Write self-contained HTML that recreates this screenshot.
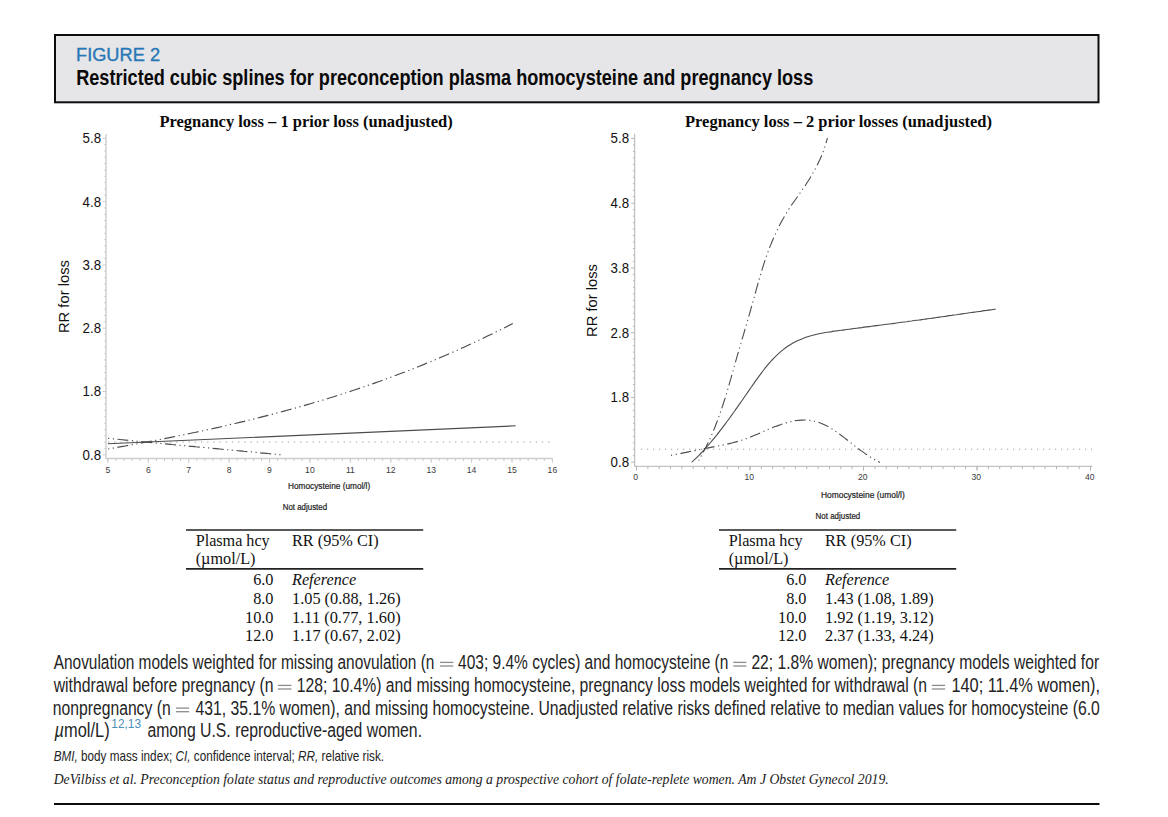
<!DOCTYPE html>
<html lang="en">
<head>
<meta charset="utf-8">
<title>Figure 2 - Restricted cubic splines for preconception plasma homocysteine and pregnancy loss</title>
<style>
html,body{margin:0;padding:0;background:#fff;}
body{width:1168px;height:817px;overflow:hidden;font-family:"Liberation Sans",sans-serif;}
svg{display:block;position:absolute;left:0;top:0;}
text{white-space:pre;}
</style>
</head>
<body>
<svg width="1168" height="817" viewBox="0 0 1168 817">
<rect x="55" y="35" width="1043.5" height="67.3" fill="#e6e6e8" stroke="#0c0c0c" stroke-width="2"/>
<text x="76.0" y="60.8" font-family='"Liberation Sans", sans-serif' font-size="17.5" fill="#2777b6" textLength="84.06" lengthAdjust="spacingAndGlyphs" stroke="#2777b6" stroke-width="0.35">FIGURE 2</text>
<text x="76.2" y="84.8" font-family='"Liberation Sans", sans-serif' font-size="21.8" fill="#0a0a0a" font-weight="bold" textLength="737.06" lengthAdjust="spacingAndGlyphs">Restricted cubic splines for preconception plasma homocysteine and pregnancy loss</text>
<line x1="106" y1="134" x2="106" y2="458.5" stroke="#cdcdcd" stroke-width="1.4" />
<line x1="105.3" y1="458.5" x2="552.6" y2="458.5" stroke="#cdcdcd" stroke-width="1.4" />
<line x1="102.5" y1="138.3" x2="106" y2="138.3" stroke="#cdcdcd" stroke-width="1" />
<line x1="104.2" y1="144.6" x2="106" y2="144.6" stroke="#cdcdcd" stroke-width="1" />
<line x1="104.2" y1="151.0" x2="106" y2="151.0" stroke="#cdcdcd" stroke-width="1" />
<line x1="104.2" y1="157.3" x2="106" y2="157.3" stroke="#cdcdcd" stroke-width="1" />
<line x1="104.2" y1="163.6" x2="106" y2="163.6" stroke="#cdcdcd" stroke-width="1" />
<line x1="104.2" y1="170.0" x2="106" y2="170.0" stroke="#cdcdcd" stroke-width="1" />
<line x1="104.2" y1="176.3" x2="106" y2="176.3" stroke="#cdcdcd" stroke-width="1" />
<line x1="104.2" y1="182.6" x2="106" y2="182.6" stroke="#cdcdcd" stroke-width="1" />
<line x1="104.2" y1="188.9" x2="106" y2="188.9" stroke="#cdcdcd" stroke-width="1" />
<line x1="104.2" y1="195.3" x2="106" y2="195.3" stroke="#cdcdcd" stroke-width="1" />
<line x1="102.5" y1="201.6" x2="106" y2="201.6" stroke="#cdcdcd" stroke-width="1" />
<line x1="104.2" y1="207.9" x2="106" y2="207.9" stroke="#cdcdcd" stroke-width="1" />
<line x1="104.2" y1="214.3" x2="106" y2="214.3" stroke="#cdcdcd" stroke-width="1" />
<line x1="104.2" y1="220.6" x2="106" y2="220.6" stroke="#cdcdcd" stroke-width="1" />
<line x1="104.2" y1="226.9" x2="106" y2="226.9" stroke="#cdcdcd" stroke-width="1" />
<line x1="104.2" y1="233.2" x2="106" y2="233.2" stroke="#cdcdcd" stroke-width="1" />
<line x1="104.2" y1="239.6" x2="106" y2="239.6" stroke="#cdcdcd" stroke-width="1" />
<line x1="104.2" y1="245.9" x2="106" y2="245.9" stroke="#cdcdcd" stroke-width="1" />
<line x1="104.2" y1="252.2" x2="106" y2="252.2" stroke="#cdcdcd" stroke-width="1" />
<line x1="104.2" y1="258.6" x2="106" y2="258.6" stroke="#cdcdcd" stroke-width="1" />
<line x1="102.5" y1="264.9" x2="106" y2="264.9" stroke="#cdcdcd" stroke-width="1" />
<line x1="104.2" y1="271.2" x2="106" y2="271.2" stroke="#cdcdcd" stroke-width="1" />
<line x1="104.2" y1="277.6" x2="106" y2="277.6" stroke="#cdcdcd" stroke-width="1" />
<line x1="104.2" y1="283.9" x2="106" y2="283.9" stroke="#cdcdcd" stroke-width="1" />
<line x1="104.2" y1="290.2" x2="106" y2="290.2" stroke="#cdcdcd" stroke-width="1" />
<line x1="104.2" y1="296.6" x2="106" y2="296.6" stroke="#cdcdcd" stroke-width="1" />
<line x1="104.2" y1="302.9" x2="106" y2="302.9" stroke="#cdcdcd" stroke-width="1" />
<line x1="104.2" y1="309.2" x2="106" y2="309.2" stroke="#cdcdcd" stroke-width="1" />
<line x1="104.2" y1="315.5" x2="106" y2="315.5" stroke="#cdcdcd" stroke-width="1" />
<line x1="104.2" y1="321.9" x2="106" y2="321.9" stroke="#cdcdcd" stroke-width="1" />
<line x1="102.5" y1="328.2" x2="106" y2="328.2" stroke="#cdcdcd" stroke-width="1" />
<line x1="104.2" y1="334.5" x2="106" y2="334.5" stroke="#cdcdcd" stroke-width="1" />
<line x1="104.2" y1="340.9" x2="106" y2="340.9" stroke="#cdcdcd" stroke-width="1" />
<line x1="104.2" y1="347.2" x2="106" y2="347.2" stroke="#cdcdcd" stroke-width="1" />
<line x1="104.2" y1="353.5" x2="106" y2="353.5" stroke="#cdcdcd" stroke-width="1" />
<line x1="104.2" y1="359.9" x2="106" y2="359.9" stroke="#cdcdcd" stroke-width="1" />
<line x1="104.2" y1="366.2" x2="106" y2="366.2" stroke="#cdcdcd" stroke-width="1" />
<line x1="104.2" y1="372.5" x2="106" y2="372.5" stroke="#cdcdcd" stroke-width="1" />
<line x1="104.2" y1="378.8" x2="106" y2="378.8" stroke="#cdcdcd" stroke-width="1" />
<line x1="104.2" y1="385.2" x2="106" y2="385.2" stroke="#cdcdcd" stroke-width="1" />
<line x1="102.5" y1="391.5" x2="106" y2="391.5" stroke="#cdcdcd" stroke-width="1" />
<line x1="104.2" y1="397.8" x2="106" y2="397.8" stroke="#cdcdcd" stroke-width="1" />
<line x1="104.2" y1="404.2" x2="106" y2="404.2" stroke="#cdcdcd" stroke-width="1" />
<line x1="104.2" y1="410.5" x2="106" y2="410.5" stroke="#cdcdcd" stroke-width="1" />
<line x1="104.2" y1="416.8" x2="106" y2="416.8" stroke="#cdcdcd" stroke-width="1" />
<line x1="104.2" y1="423.2" x2="106" y2="423.2" stroke="#cdcdcd" stroke-width="1" />
<line x1="104.2" y1="429.5" x2="106" y2="429.5" stroke="#cdcdcd" stroke-width="1" />
<line x1="104.2" y1="435.8" x2="106" y2="435.8" stroke="#cdcdcd" stroke-width="1" />
<line x1="104.2" y1="442.1" x2="106" y2="442.1" stroke="#cdcdcd" stroke-width="1" />
<line x1="104.2" y1="448.5" x2="106" y2="448.5" stroke="#cdcdcd" stroke-width="1" />
<line x1="102.5" y1="454.8" x2="106" y2="454.8" stroke="#cdcdcd" stroke-width="1" />
<text x="82.6" y="143.2" font-family='"Liberation Sans", sans-serif' font-size="14.5" fill="#111" textLength="18.5" lengthAdjust="spacingAndGlyphs">5.8</text>
<text x="82.6" y="206.5" font-family='"Liberation Sans", sans-serif' font-size="14.5" fill="#111" textLength="18.5" lengthAdjust="spacingAndGlyphs">4.8</text>
<text x="82.6" y="269.8" font-family='"Liberation Sans", sans-serif' font-size="14.5" fill="#111" textLength="18.5" lengthAdjust="spacingAndGlyphs">3.8</text>
<text x="82.6" y="333.1" font-family='"Liberation Sans", sans-serif' font-size="14.5" fill="#111" textLength="18.5" lengthAdjust="spacingAndGlyphs">2.8</text>
<text x="82.6" y="396.4" font-family='"Liberation Sans", sans-serif' font-size="14.5" fill="#111" textLength="18.5" lengthAdjust="spacingAndGlyphs">1.8</text>
<text x="82.6" y="459.7" font-family='"Liberation Sans", sans-serif' font-size="14.5" fill="#111" textLength="18.5" lengthAdjust="spacingAndGlyphs">0.8</text>
<line x1="107.9" y1="458.5" x2="107.9" y2="461.3" stroke="#cdcdcd" stroke-width="1" />
<line x1="116.0" y1="458.5" x2="116.0" y2="461.3" stroke="#cdcdcd" stroke-width="1" />
<line x1="124.1" y1="458.5" x2="124.1" y2="461.3" stroke="#cdcdcd" stroke-width="1" />
<line x1="132.1" y1="458.5" x2="132.1" y2="461.3" stroke="#cdcdcd" stroke-width="1" />
<line x1="140.2" y1="458.5" x2="140.2" y2="461.3" stroke="#cdcdcd" stroke-width="1" />
<line x1="148.3" y1="458.5" x2="148.3" y2="461.3" stroke="#cdcdcd" stroke-width="1" />
<line x1="156.4" y1="458.5" x2="156.4" y2="461.3" stroke="#cdcdcd" stroke-width="1" />
<line x1="164.5" y1="458.5" x2="164.5" y2="461.3" stroke="#cdcdcd" stroke-width="1" />
<line x1="172.6" y1="458.5" x2="172.6" y2="461.3" stroke="#cdcdcd" stroke-width="1" />
<line x1="180.6" y1="458.5" x2="180.6" y2="461.3" stroke="#cdcdcd" stroke-width="1" />
<line x1="188.7" y1="458.5" x2="188.7" y2="461.3" stroke="#cdcdcd" stroke-width="1" />
<line x1="196.8" y1="458.5" x2="196.8" y2="461.3" stroke="#cdcdcd" stroke-width="1" />
<line x1="204.9" y1="458.5" x2="204.9" y2="461.3" stroke="#cdcdcd" stroke-width="1" />
<line x1="213.0" y1="458.5" x2="213.0" y2="461.3" stroke="#cdcdcd" stroke-width="1" />
<line x1="221.0" y1="458.5" x2="221.0" y2="461.3" stroke="#cdcdcd" stroke-width="1" />
<line x1="229.1" y1="458.5" x2="229.1" y2="461.3" stroke="#cdcdcd" stroke-width="1" />
<line x1="237.2" y1="458.5" x2="237.2" y2="461.3" stroke="#cdcdcd" stroke-width="1" />
<line x1="245.3" y1="458.5" x2="245.3" y2="461.3" stroke="#cdcdcd" stroke-width="1" />
<line x1="253.4" y1="458.5" x2="253.4" y2="461.3" stroke="#cdcdcd" stroke-width="1" />
<line x1="261.5" y1="458.5" x2="261.5" y2="461.3" stroke="#cdcdcd" stroke-width="1" />
<line x1="269.5" y1="458.5" x2="269.5" y2="461.3" stroke="#cdcdcd" stroke-width="1" />
<line x1="277.6" y1="458.5" x2="277.6" y2="461.3" stroke="#cdcdcd" stroke-width="1" />
<line x1="285.7" y1="458.5" x2="285.7" y2="461.3" stroke="#cdcdcd" stroke-width="1" />
<line x1="293.8" y1="458.5" x2="293.8" y2="461.3" stroke="#cdcdcd" stroke-width="1" />
<line x1="301.9" y1="458.5" x2="301.9" y2="461.3" stroke="#cdcdcd" stroke-width="1" />
<line x1="309.9" y1="458.5" x2="309.9" y2="461.3" stroke="#cdcdcd" stroke-width="1" />
<line x1="318.0" y1="458.5" x2="318.0" y2="461.3" stroke="#cdcdcd" stroke-width="1" />
<line x1="326.1" y1="458.5" x2="326.1" y2="461.3" stroke="#cdcdcd" stroke-width="1" />
<line x1="334.2" y1="458.5" x2="334.2" y2="461.3" stroke="#cdcdcd" stroke-width="1" />
<line x1="342.3" y1="458.5" x2="342.3" y2="461.3" stroke="#cdcdcd" stroke-width="1" />
<line x1="350.4" y1="458.5" x2="350.4" y2="461.3" stroke="#cdcdcd" stroke-width="1" />
<line x1="358.4" y1="458.5" x2="358.4" y2="461.3" stroke="#cdcdcd" stroke-width="1" />
<line x1="366.5" y1="458.5" x2="366.5" y2="461.3" stroke="#cdcdcd" stroke-width="1" />
<line x1="374.6" y1="458.5" x2="374.6" y2="461.3" stroke="#cdcdcd" stroke-width="1" />
<line x1="382.7" y1="458.5" x2="382.7" y2="461.3" stroke="#cdcdcd" stroke-width="1" />
<line x1="390.8" y1="458.5" x2="390.8" y2="461.3" stroke="#cdcdcd" stroke-width="1" />
<line x1="398.8" y1="458.5" x2="398.8" y2="461.3" stroke="#cdcdcd" stroke-width="1" />
<line x1="406.9" y1="458.5" x2="406.9" y2="461.3" stroke="#cdcdcd" stroke-width="1" />
<line x1="415.0" y1="458.5" x2="415.0" y2="461.3" stroke="#cdcdcd" stroke-width="1" />
<line x1="423.1" y1="458.5" x2="423.1" y2="461.3" stroke="#cdcdcd" stroke-width="1" />
<line x1="431.2" y1="458.5" x2="431.2" y2="461.3" stroke="#cdcdcd" stroke-width="1" />
<line x1="439.3" y1="458.5" x2="439.3" y2="461.3" stroke="#cdcdcd" stroke-width="1" />
<line x1="447.3" y1="458.5" x2="447.3" y2="461.3" stroke="#cdcdcd" stroke-width="1" />
<line x1="455.4" y1="458.5" x2="455.4" y2="461.3" stroke="#cdcdcd" stroke-width="1" />
<line x1="463.5" y1="458.5" x2="463.5" y2="461.3" stroke="#cdcdcd" stroke-width="1" />
<line x1="471.6" y1="458.5" x2="471.6" y2="461.3" stroke="#cdcdcd" stroke-width="1" />
<line x1="479.7" y1="458.5" x2="479.7" y2="461.3" stroke="#cdcdcd" stroke-width="1" />
<line x1="487.7" y1="458.5" x2="487.7" y2="461.3" stroke="#cdcdcd" stroke-width="1" />
<line x1="495.8" y1="458.5" x2="495.8" y2="461.3" stroke="#cdcdcd" stroke-width="1" />
<line x1="503.9" y1="458.5" x2="503.9" y2="461.3" stroke="#cdcdcd" stroke-width="1" />
<line x1="512.0" y1="458.5" x2="512.0" y2="461.3" stroke="#cdcdcd" stroke-width="1" />
<line x1="520.1" y1="458.5" x2="520.1" y2="461.3" stroke="#cdcdcd" stroke-width="1" />
<line x1="528.2" y1="458.5" x2="528.2" y2="461.3" stroke="#cdcdcd" stroke-width="1" />
<line x1="536.2" y1="458.5" x2="536.2" y2="461.3" stroke="#cdcdcd" stroke-width="1" />
<line x1="544.3" y1="458.5" x2="544.3" y2="461.3" stroke="#cdcdcd" stroke-width="1" />
<line x1="552.4" y1="458.5" x2="552.4" y2="461.3" stroke="#cdcdcd" stroke-width="1" />
<line x1="107.9" y1="458.5" x2="107.9" y2="462.9" stroke="#cdcdcd" stroke-width="1" />
<text x="107.9" y="472.8" font-family='"Liberation Sans", sans-serif' font-size="8.6" fill="#3a3a3a" text-anchor="middle">5</text>
<line x1="148.3" y1="458.5" x2="148.3" y2="462.9" stroke="#cdcdcd" stroke-width="1" />
<text x="148.3" y="472.8" font-family='"Liberation Sans", sans-serif' font-size="8.6" fill="#3a3a3a" text-anchor="middle">6</text>
<line x1="188.7" y1="458.5" x2="188.7" y2="462.9" stroke="#cdcdcd" stroke-width="1" />
<text x="188.7" y="472.8" font-family='"Liberation Sans", sans-serif' font-size="8.6" fill="#3a3a3a" text-anchor="middle">7</text>
<line x1="229.1" y1="458.5" x2="229.1" y2="462.9" stroke="#cdcdcd" stroke-width="1" />
<text x="229.1" y="472.8" font-family='"Liberation Sans", sans-serif' font-size="8.6" fill="#3a3a3a" text-anchor="middle">8</text>
<line x1="269.5" y1="458.5" x2="269.5" y2="462.9" stroke="#cdcdcd" stroke-width="1" />
<text x="269.5" y="472.8" font-family='"Liberation Sans", sans-serif' font-size="8.6" fill="#3a3a3a" text-anchor="middle">9</text>
<line x1="309.9" y1="458.5" x2="309.9" y2="462.9" stroke="#cdcdcd" stroke-width="1" />
<text x="309.9" y="472.8" font-family='"Liberation Sans", sans-serif' font-size="8.6" fill="#3a3a3a" text-anchor="middle">10</text>
<line x1="350.4" y1="458.5" x2="350.4" y2="462.9" stroke="#cdcdcd" stroke-width="1" />
<text x="350.4" y="472.8" font-family='"Liberation Sans", sans-serif' font-size="8.6" fill="#3a3a3a" text-anchor="middle">11</text>
<line x1="390.8" y1="458.5" x2="390.8" y2="462.9" stroke="#cdcdcd" stroke-width="1" />
<text x="390.8" y="472.8" font-family='"Liberation Sans", sans-serif' font-size="8.6" fill="#3a3a3a" text-anchor="middle">12</text>
<line x1="431.2" y1="458.5" x2="431.2" y2="462.9" stroke="#cdcdcd" stroke-width="1" />
<text x="431.2" y="472.8" font-family='"Liberation Sans", sans-serif' font-size="8.6" fill="#3a3a3a" text-anchor="middle">13</text>
<line x1="471.6" y1="458.5" x2="471.6" y2="462.9" stroke="#cdcdcd" stroke-width="1" />
<text x="471.6" y="472.8" font-family='"Liberation Sans", sans-serif' font-size="8.6" fill="#3a3a3a" text-anchor="middle">14</text>
<line x1="512.0" y1="458.5" x2="512.0" y2="462.9" stroke="#cdcdcd" stroke-width="1" />
<text x="512.0" y="472.8" font-family='"Liberation Sans", sans-serif' font-size="8.6" fill="#3a3a3a" text-anchor="middle">15</text>
<line x1="552.4" y1="458.5" x2="552.4" y2="462.9" stroke="#cdcdcd" stroke-width="1" />
<text x="552.4" y="472.8" font-family='"Liberation Sans", sans-serif' font-size="8.6" fill="#3a3a3a" text-anchor="middle">16</text>
<text transform="translate(69.2,296.6) rotate(-90)" text-anchor="middle" font-family='"Liberation Sans", sans-serif' font-size="15.3" fill="#111" textLength="73" lengthAdjust="spacingAndGlyphs">RR for loss</text>
<text x="159.4" y="126.8" font-family='"Liberation Serif", serif' font-size="17.3" fill="#0a0a0a" font-weight="bold" textLength="293.39" lengthAdjust="spacingAndGlyphs">Pregnancy loss – 1 prior loss (unadjusted)</text>
<text x="288" y="488.8" font-family='"Liberation Sans", sans-serif' font-size="8.5" fill="#222" textLength="82.2" lengthAdjust="spacingAndGlyphs" stroke="#222" stroke-width="0.2">Homocysteine (umol/l)</text>
<text x="282.7" y="510.4" font-family='"Liberation Sans", sans-serif' font-size="8.5" fill="#222" textLength="44.4" lengthAdjust="spacingAndGlyphs" stroke="#222" stroke-width="0.2">Not adjusted</text>
<line x1="108" y1="442.0" x2="554.5" y2="442.0" stroke="#9a9a9a" stroke-width="1" stroke-dasharray="1.2 5"/>
<path d="M107.9,443.8 L515.7,425.8" fill="none" stroke="#4c4c4c" stroke-width="1.15" />
<path d="M108.0,449.0 C109.3,448.8 113.3,448.1 116.0,447.6 C118.7,447.2 121.3,446.7 124.0,446.2 C126.7,445.7 129.3,445.2 132.0,444.8 C134.7,444.3 137.3,443.8 140.0,443.3 C142.7,442.8 145.3,442.3 148.0,441.8 C150.7,441.3 153.3,440.8 156.0,440.3 C158.7,439.8 161.3,439.2 164.0,438.7 C166.7,438.2 169.3,437.7 172.0,437.1 C174.7,436.6 177.3,436.1 180.0,435.5 C182.7,435.0 185.3,434.4 188.0,433.9 C190.7,433.3 193.3,432.8 196.0,432.2 C198.7,431.6 201.3,431.1 204.0,430.5 C206.7,429.9 209.3,429.3 212.0,428.8 C214.7,428.2 217.3,427.6 220.0,427.0 C222.7,426.4 225.3,425.8 228.0,425.1 C230.7,424.5 233.3,423.9 236.0,423.3 C238.7,422.6 241.3,422.0 244.0,421.4 C246.7,420.7 249.3,420.1 252.0,419.4 C254.7,418.8 257.3,418.1 260.0,417.4 C262.7,416.7 265.3,416.1 268.0,415.4 C270.7,414.7 273.3,414.0 276.0,413.3 C278.7,412.6 281.3,411.9 284.0,411.1 C286.7,410.4 289.3,409.7 292.0,409.0 C294.7,408.2 297.3,407.5 300.0,406.7 C302.7,406.0 305.3,405.2 308.0,404.4 C310.7,403.6 313.3,402.9 316.0,402.1 C318.7,401.3 321.3,400.5 324.0,399.7 C326.7,398.9 329.3,398.0 332.0,397.2 C334.7,396.4 337.3,395.5 340.0,394.7 C342.7,393.8 345.3,393.0 348.0,392.1 C350.7,391.2 353.3,390.4 356.0,389.5 C358.7,388.6 361.3,387.7 364.0,386.8 C366.7,385.9 369.3,384.9 372.0,384.0 C374.7,383.1 377.3,382.1 380.0,381.2 C382.7,380.2 385.3,379.2 388.0,378.3 C390.7,377.3 393.3,376.3 396.0,375.3 C398.7,374.3 401.3,373.3 404.0,372.3 C406.7,371.2 409.3,370.2 412.0,369.2 C414.7,368.1 417.3,367.1 420.0,366.0 C422.7,364.9 425.3,363.8 428.0,362.7 C430.7,361.6 433.3,360.5 436.0,359.4 C438.7,358.3 441.3,357.2 444.0,356.0 C446.7,354.9 449.3,353.7 452.0,352.5 C454.7,351.4 457.3,350.2 460.0,349.0 C462.7,347.8 465.3,346.6 468.0,345.3 C470.7,344.1 473.3,342.9 476.0,341.6 C478.7,340.4 481.3,339.1 484.0,337.8 C486.7,336.5 489.3,335.2 492.0,333.9 C494.7,332.6 497.3,331.3 500.0,330.0 C502.7,328.6 505.9,327.0 508.0,325.9 C510.1,324.8 512.0,323.8 512.8,323.4" fill="none" stroke="#4c4c4c" stroke-width="1.15" stroke-dasharray="11 3.5 1.2 3.5 1.2 3.5" stroke-dashoffset="14.4" />
<path d="M108.0,438.3 C109.3,438.5 113.3,438.8 116.0,439.1 C118.7,439.4 121.3,439.6 124.0,439.9 C126.7,440.1 129.3,440.4 132.0,440.6 C134.7,440.9 137.3,441.2 140.0,441.4 C142.7,441.7 145.3,441.9 148.0,442.2 C150.7,442.4 153.3,442.7 156.0,443.0 C158.7,443.2 161.3,443.5 164.0,443.7 C166.7,444.0 169.3,444.2 172.0,444.5 C174.7,444.7 177.3,445.0 180.0,445.3 C182.7,445.5 185.3,445.8 188.0,446.0 C190.7,446.3 193.3,446.5 196.0,446.8 C198.7,447.0 201.3,447.3 204.0,447.5 C206.7,447.8 209.3,448.0 212.0,448.3 C214.7,448.5 217.3,448.8 220.0,449.0 C222.7,449.3 225.3,449.5 228.0,449.8 C230.7,450.0 233.3,450.3 236.0,450.5 C238.7,450.8 241.3,451.0 244.0,451.3 C246.7,451.5 249.3,451.8 252.0,452.0 C254.7,452.3 257.3,452.5 260.0,452.8 C262.7,453.0 265.3,453.3 268.0,453.5 C270.7,453.8 273.4,454.0 276.0,454.3 C278.6,454.5 282.2,454.9 283.5,455.0" fill="none" stroke="#4c4c4c" stroke-width="1.15" stroke-dasharray="11 3.5 1.2 3.5 1.2 3.5" stroke-dashoffset="14.4" />
<line x1="634.7" y1="133.7" x2="634.7" y2="466.3" stroke="#b4b4b4" stroke-width="1.0" />
<line x1="634.2" y1="466.3" x2="1092.5" y2="466.3" stroke="#b4b4b4" stroke-width="1.0" />
<line x1="631.2" y1="138.4" x2="634.7" y2="138.4" stroke="#b4b4b4" stroke-width="1" />
<line x1="632.9000000000001" y1="144.9" x2="634.7" y2="144.9" stroke="#b4b4b4" stroke-width="1" />
<line x1="632.9000000000001" y1="151.4" x2="634.7" y2="151.4" stroke="#b4b4b4" stroke-width="1" />
<line x1="632.9000000000001" y1="157.8" x2="634.7" y2="157.8" stroke="#b4b4b4" stroke-width="1" />
<line x1="632.9000000000001" y1="164.3" x2="634.7" y2="164.3" stroke="#b4b4b4" stroke-width="1" />
<line x1="632.9000000000001" y1="170.8" x2="634.7" y2="170.8" stroke="#b4b4b4" stroke-width="1" />
<line x1="632.9000000000001" y1="177.3" x2="634.7" y2="177.3" stroke="#b4b4b4" stroke-width="1" />
<line x1="632.9000000000001" y1="183.7" x2="634.7" y2="183.7" stroke="#b4b4b4" stroke-width="1" />
<line x1="632.9000000000001" y1="190.2" x2="634.7" y2="190.2" stroke="#b4b4b4" stroke-width="1" />
<line x1="632.9000000000001" y1="196.7" x2="634.7" y2="196.7" stroke="#b4b4b4" stroke-width="1" />
<line x1="631.2" y1="203.2" x2="634.7" y2="203.2" stroke="#b4b4b4" stroke-width="1" />
<line x1="632.9000000000001" y1="209.6" x2="634.7" y2="209.6" stroke="#b4b4b4" stroke-width="1" />
<line x1="632.9000000000001" y1="216.1" x2="634.7" y2="216.1" stroke="#b4b4b4" stroke-width="1" />
<line x1="632.9000000000001" y1="222.6" x2="634.7" y2="222.6" stroke="#b4b4b4" stroke-width="1" />
<line x1="632.9000000000001" y1="229.1" x2="634.7" y2="229.1" stroke="#b4b4b4" stroke-width="1" />
<line x1="632.9000000000001" y1="235.5" x2="634.7" y2="235.5" stroke="#b4b4b4" stroke-width="1" />
<line x1="632.9000000000001" y1="242.0" x2="634.7" y2="242.0" stroke="#b4b4b4" stroke-width="1" />
<line x1="632.9000000000001" y1="248.5" x2="634.7" y2="248.5" stroke="#b4b4b4" stroke-width="1" />
<line x1="632.9000000000001" y1="255.0" x2="634.7" y2="255.0" stroke="#b4b4b4" stroke-width="1" />
<line x1="632.9000000000001" y1="261.4" x2="634.7" y2="261.4" stroke="#b4b4b4" stroke-width="1" />
<line x1="631.2" y1="267.9" x2="634.7" y2="267.9" stroke="#b4b4b4" stroke-width="1" />
<line x1="632.9000000000001" y1="274.4" x2="634.7" y2="274.4" stroke="#b4b4b4" stroke-width="1" />
<line x1="632.9000000000001" y1="280.9" x2="634.7" y2="280.9" stroke="#b4b4b4" stroke-width="1" />
<line x1="632.9000000000001" y1="287.3" x2="634.7" y2="287.3" stroke="#b4b4b4" stroke-width="1" />
<line x1="632.9000000000001" y1="293.8" x2="634.7" y2="293.8" stroke="#b4b4b4" stroke-width="1" />
<line x1="632.9000000000001" y1="300.3" x2="634.7" y2="300.3" stroke="#b4b4b4" stroke-width="1" />
<line x1="632.9000000000001" y1="306.8" x2="634.7" y2="306.8" stroke="#b4b4b4" stroke-width="1" />
<line x1="632.9000000000001" y1="313.3" x2="634.7" y2="313.3" stroke="#b4b4b4" stroke-width="1" />
<line x1="632.9000000000001" y1="319.7" x2="634.7" y2="319.7" stroke="#b4b4b4" stroke-width="1" />
<line x1="632.9000000000001" y1="326.2" x2="634.7" y2="326.2" stroke="#b4b4b4" stroke-width="1" />
<line x1="631.2" y1="332.7" x2="634.7" y2="332.7" stroke="#b4b4b4" stroke-width="1" />
<line x1="632.9000000000001" y1="339.2" x2="634.7" y2="339.2" stroke="#b4b4b4" stroke-width="1" />
<line x1="632.9000000000001" y1="345.6" x2="634.7" y2="345.6" stroke="#b4b4b4" stroke-width="1" />
<line x1="632.9000000000001" y1="352.1" x2="634.7" y2="352.1" stroke="#b4b4b4" stroke-width="1" />
<line x1="632.9000000000001" y1="358.6" x2="634.7" y2="358.6" stroke="#b4b4b4" stroke-width="1" />
<line x1="632.9000000000001" y1="365.1" x2="634.7" y2="365.1" stroke="#b4b4b4" stroke-width="1" />
<line x1="632.9000000000001" y1="371.5" x2="634.7" y2="371.5" stroke="#b4b4b4" stroke-width="1" />
<line x1="632.9000000000001" y1="378.0" x2="634.7" y2="378.0" stroke="#b4b4b4" stroke-width="1" />
<line x1="632.9000000000001" y1="384.5" x2="634.7" y2="384.5" stroke="#b4b4b4" stroke-width="1" />
<line x1="632.9000000000001" y1="391.0" x2="634.7" y2="391.0" stroke="#b4b4b4" stroke-width="1" />
<line x1="631.2" y1="397.4" x2="634.7" y2="397.4" stroke="#b4b4b4" stroke-width="1" />
<line x1="632.9000000000001" y1="403.9" x2="634.7" y2="403.9" stroke="#b4b4b4" stroke-width="1" />
<line x1="632.9000000000001" y1="410.4" x2="634.7" y2="410.4" stroke="#b4b4b4" stroke-width="1" />
<line x1="632.9000000000001" y1="416.9" x2="634.7" y2="416.9" stroke="#b4b4b4" stroke-width="1" />
<line x1="632.9000000000001" y1="423.3" x2="634.7" y2="423.3" stroke="#b4b4b4" stroke-width="1" />
<line x1="632.9000000000001" y1="429.8" x2="634.7" y2="429.8" stroke="#b4b4b4" stroke-width="1" />
<line x1="632.9000000000001" y1="436.3" x2="634.7" y2="436.3" stroke="#b4b4b4" stroke-width="1" />
<line x1="632.9000000000001" y1="442.8" x2="634.7" y2="442.8" stroke="#b4b4b4" stroke-width="1" />
<line x1="632.9000000000001" y1="449.2" x2="634.7" y2="449.2" stroke="#b4b4b4" stroke-width="1" />
<line x1="632.9000000000001" y1="455.7" x2="634.7" y2="455.7" stroke="#b4b4b4" stroke-width="1" />
<line x1="631.2" y1="462.2" x2="634.7" y2="462.2" stroke="#b4b4b4" stroke-width="1" />
<text x="610.6" y="143.3" font-family='"Liberation Sans", sans-serif' font-size="14.5" fill="#111" textLength="18.5" lengthAdjust="spacingAndGlyphs">5.8</text>
<text x="610.6" y="208.1" font-family='"Liberation Sans", sans-serif' font-size="14.5" fill="#111" textLength="18.5" lengthAdjust="spacingAndGlyphs">4.8</text>
<text x="610.6" y="272.8" font-family='"Liberation Sans", sans-serif' font-size="14.5" fill="#111" textLength="18.5" lengthAdjust="spacingAndGlyphs">3.8</text>
<text x="610.6" y="337.6" font-family='"Liberation Sans", sans-serif' font-size="14.5" fill="#111" textLength="18.5" lengthAdjust="spacingAndGlyphs">2.8</text>
<text x="610.6" y="402.3" font-family='"Liberation Sans", sans-serif' font-size="14.5" fill="#111" textLength="18.5" lengthAdjust="spacingAndGlyphs">1.8</text>
<text x="610.6" y="467.1" font-family='"Liberation Sans", sans-serif' font-size="14.5" fill="#111" textLength="18.5" lengthAdjust="spacingAndGlyphs">0.8</text>
<line x1="636.5" y1="466.3" x2="636.5" y2="469.1" stroke="#b4b4b4" stroke-width="1" />
<line x1="647.9" y1="466.3" x2="647.9" y2="469.1" stroke="#b4b4b4" stroke-width="1" />
<line x1="659.2" y1="466.3" x2="659.2" y2="469.1" stroke="#b4b4b4" stroke-width="1" />
<line x1="670.5" y1="466.3" x2="670.5" y2="469.1" stroke="#b4b4b4" stroke-width="1" />
<line x1="681.9" y1="466.3" x2="681.9" y2="469.1" stroke="#b4b4b4" stroke-width="1" />
<line x1="693.2" y1="466.3" x2="693.2" y2="469.1" stroke="#b4b4b4" stroke-width="1" />
<line x1="704.6" y1="466.3" x2="704.6" y2="469.1" stroke="#b4b4b4" stroke-width="1" />
<line x1="716.0" y1="466.3" x2="716.0" y2="469.1" stroke="#b4b4b4" stroke-width="1" />
<line x1="727.3" y1="466.3" x2="727.3" y2="469.1" stroke="#b4b4b4" stroke-width="1" />
<line x1="738.6" y1="466.3" x2="738.6" y2="469.1" stroke="#b4b4b4" stroke-width="1" />
<line x1="750.0" y1="466.3" x2="750.0" y2="469.1" stroke="#b4b4b4" stroke-width="1" />
<line x1="761.4" y1="466.3" x2="761.4" y2="469.1" stroke="#b4b4b4" stroke-width="1" />
<line x1="772.7" y1="466.3" x2="772.7" y2="469.1" stroke="#b4b4b4" stroke-width="1" />
<line x1="784.0" y1="466.3" x2="784.0" y2="469.1" stroke="#b4b4b4" stroke-width="1" />
<line x1="795.4" y1="466.3" x2="795.4" y2="469.1" stroke="#b4b4b4" stroke-width="1" />
<line x1="806.8" y1="466.3" x2="806.8" y2="469.1" stroke="#b4b4b4" stroke-width="1" />
<line x1="818.1" y1="466.3" x2="818.1" y2="469.1" stroke="#b4b4b4" stroke-width="1" />
<line x1="829.5" y1="466.3" x2="829.5" y2="469.1" stroke="#b4b4b4" stroke-width="1" />
<line x1="840.8" y1="466.3" x2="840.8" y2="469.1" stroke="#b4b4b4" stroke-width="1" />
<line x1="852.1" y1="466.3" x2="852.1" y2="469.1" stroke="#b4b4b4" stroke-width="1" />
<line x1="863.5" y1="466.3" x2="863.5" y2="469.1" stroke="#b4b4b4" stroke-width="1" />
<line x1="874.9" y1="466.3" x2="874.9" y2="469.1" stroke="#b4b4b4" stroke-width="1" />
<line x1="886.2" y1="466.3" x2="886.2" y2="469.1" stroke="#b4b4b4" stroke-width="1" />
<line x1="897.5" y1="466.3" x2="897.5" y2="469.1" stroke="#b4b4b4" stroke-width="1" />
<line x1="908.9" y1="466.3" x2="908.9" y2="469.1" stroke="#b4b4b4" stroke-width="1" />
<line x1="920.2" y1="466.3" x2="920.2" y2="469.1" stroke="#b4b4b4" stroke-width="1" />
<line x1="931.6" y1="466.3" x2="931.6" y2="469.1" stroke="#b4b4b4" stroke-width="1" />
<line x1="943.0" y1="466.3" x2="943.0" y2="469.1" stroke="#b4b4b4" stroke-width="1" />
<line x1="954.3" y1="466.3" x2="954.3" y2="469.1" stroke="#b4b4b4" stroke-width="1" />
<line x1="965.6" y1="466.3" x2="965.6" y2="469.1" stroke="#b4b4b4" stroke-width="1" />
<line x1="977.0" y1="466.3" x2="977.0" y2="469.1" stroke="#b4b4b4" stroke-width="1" />
<line x1="988.4" y1="466.3" x2="988.4" y2="469.1" stroke="#b4b4b4" stroke-width="1" />
<line x1="999.7" y1="466.3" x2="999.7" y2="469.1" stroke="#b4b4b4" stroke-width="1" />
<line x1="1011.0" y1="466.3" x2="1011.0" y2="469.1" stroke="#b4b4b4" stroke-width="1" />
<line x1="1022.4" y1="466.3" x2="1022.4" y2="469.1" stroke="#b4b4b4" stroke-width="1" />
<line x1="1033.8" y1="466.3" x2="1033.8" y2="469.1" stroke="#b4b4b4" stroke-width="1" />
<line x1="1045.1" y1="466.3" x2="1045.1" y2="469.1" stroke="#b4b4b4" stroke-width="1" />
<line x1="1056.5" y1="466.3" x2="1056.5" y2="469.1" stroke="#b4b4b4" stroke-width="1" />
<line x1="1067.8" y1="466.3" x2="1067.8" y2="469.1" stroke="#b4b4b4" stroke-width="1" />
<line x1="1079.2" y1="466.3" x2="1079.2" y2="469.1" stroke="#b4b4b4" stroke-width="1" />
<line x1="1090.5" y1="466.3" x2="1090.5" y2="469.1" stroke="#b4b4b4" stroke-width="1" />
<line x1="636.5" y1="466.3" x2="636.5" y2="470.7" stroke="#b4b4b4" stroke-width="1" />
<text x="635.7" y="480.0" font-family='"Liberation Sans", sans-serif' font-size="8.6" fill="#3a3a3a" text-anchor="middle">0</text>
<line x1="750.0" y1="466.3" x2="750.0" y2="470.7" stroke="#b4b4b4" stroke-width="1" />
<text x="749.2" y="480.0" font-family='"Liberation Sans", sans-serif' font-size="8.6" fill="#3a3a3a" text-anchor="middle">10</text>
<line x1="863.5" y1="466.3" x2="863.5" y2="470.7" stroke="#b4b4b4" stroke-width="1" />
<text x="862.7" y="480.0" font-family='"Liberation Sans", sans-serif' font-size="8.6" fill="#3a3a3a" text-anchor="middle">20</text>
<line x1="977.0" y1="466.3" x2="977.0" y2="470.7" stroke="#b4b4b4" stroke-width="1" />
<text x="976.2" y="480.0" font-family='"Liberation Sans", sans-serif' font-size="8.6" fill="#3a3a3a" text-anchor="middle">30</text>
<line x1="1090.5" y1="466.3" x2="1090.5" y2="470.7" stroke="#b4b4b4" stroke-width="1" />
<text x="1089.7" y="480.0" font-family='"Liberation Sans", sans-serif' font-size="8.6" fill="#3a3a3a" text-anchor="middle">40</text>
<text transform="translate(596.9,300.5) rotate(-90)" text-anchor="middle" font-family='"Liberation Sans", sans-serif' font-size="15.3" fill="#111" textLength="73" lengthAdjust="spacingAndGlyphs">RR for loss</text>
<text x="685.0" y="126.8" font-family='"Liberation Serif", serif' font-size="17.3" fill="#0a0a0a" font-weight="bold" textLength="307.01" lengthAdjust="spacingAndGlyphs">Pregnancy loss – 2 prior losses (unadjusted)</text>
<text x="820.9" y="497.5" font-family='"Liberation Sans", sans-serif' font-size="8.5" fill="#222" textLength="83.9" lengthAdjust="spacingAndGlyphs" stroke="#222" stroke-width="0.2">Homocysteine (umol/l)</text>
<text x="815.6" y="518.5" font-family='"Liberation Sans", sans-serif' font-size="8.5" fill="#222" textLength="44.7" lengthAdjust="spacingAndGlyphs" stroke="#222" stroke-width="0.2">Not adjusted</text>
<line x1="641" y1="449.2" x2="1092" y2="449.2" stroke="#9a9a9a" stroke-width="1" stroke-dasharray="1.2 4.8"/>
<path d="M691.7,462.3 C692.5,461.5 695.0,459.2 696.7,457.6 C698.4,456.0 700.0,454.2 701.7,452.5 C703.4,450.7 705.0,448.9 706.7,447.0 C708.4,445.1 710.0,443.2 711.7,441.2 C713.4,439.2 715.0,437.1 716.7,435.1 C718.4,433.0 720.0,430.8 721.7,428.7 C723.4,426.5 725.0,424.3 726.7,422.0 C728.4,419.8 730.0,417.5 731.7,415.2 C733.4,412.9 735.0,410.5 736.7,408.1 C738.4,405.8 740.0,403.4 741.7,401.0 C743.4,398.6 745.0,396.2 746.7,393.7 C748.4,391.3 750.0,388.9 751.7,386.5 C753.4,384.1 755.0,381.7 756.7,379.4 C758.4,377.1 760.0,374.8 761.7,372.6 C763.4,370.4 765.0,368.2 766.7,366.2 C768.4,364.1 770.0,362.2 771.7,360.4 C773.4,358.6 775.0,356.9 776.7,355.3 C778.4,353.7 780.0,352.2 781.7,350.8 C783.4,349.5 785.0,348.2 786.7,347.0 C788.4,345.9 790.0,344.8 791.7,343.8 C793.4,342.8 795.0,341.9 796.7,341.1 C798.4,340.3 800.0,339.5 801.7,338.9 C803.4,338.2 805.0,337.6 806.7,337.0 C808.4,336.4 810.0,335.9 811.7,335.5 C813.4,335.0 815.0,334.6 816.7,334.2 C818.4,333.8 820.0,333.5 821.7,333.2 C823.4,332.9 825.0,332.6 826.7,332.3 C828.4,332.1 830.0,331.8 831.7,331.6 C833.4,331.3 835.0,331.1 836.7,330.9 C838.4,330.6 840.0,330.4 841.7,330.2 C843.4,330.0 845.0,329.7 846.7,329.5 C848.4,329.3 850.0,329.1 851.7,328.9 C853.4,328.6 855.0,328.4 856.7,328.2 C858.4,328.0 860.0,327.8 861.7,327.6 C863.4,327.3 865.0,327.1 866.7,326.9 C868.4,326.7 870.0,326.5 871.7,326.3 C873.4,326.1 875.0,325.9 876.7,325.6 C878.4,325.4 880.0,325.2 881.7,325.0 C883.4,324.8 885.0,324.6 886.7,324.3 C888.4,324.1 890.0,323.9 891.7,323.7 C893.4,323.5 895.0,323.2 896.7,323.0 C898.4,322.8 900.0,322.6 901.7,322.3 C903.4,322.1 905.0,321.9 906.7,321.7 C908.4,321.4 910.0,321.2 911.7,321.0 C913.4,320.7 915.0,320.5 916.7,320.3 C918.4,320.1 920.0,319.8 921.7,319.6 C923.4,319.4 925.0,319.1 926.7,318.9 C928.4,318.7 930.0,318.4 931.7,318.2 C933.4,318.0 935.0,317.7 936.7,317.5 C938.4,317.3 940.0,317.0 941.7,316.8 C943.4,316.6 945.0,316.3 946.7,316.1 C948.4,315.8 950.0,315.6 951.7,315.4 C953.4,315.1 955.0,314.9 956.7,314.7 C958.4,314.4 960.0,314.2 961.7,313.9 C963.4,313.7 965.0,313.5 966.7,313.2 C968.4,313.0 970.0,312.8 971.7,312.5 C973.4,312.3 975.0,312.0 976.7,311.8 C978.4,311.6 980.0,311.3 981.7,311.1 C983.4,310.8 985.0,310.6 986.7,310.4 C988.4,310.1 990.2,309.9 991.7,309.7 C993.2,309.4 995.0,309.2 995.6,309.1" fill="none" stroke="#4c4c4c" stroke-width="1.1" />
<path d="M698.6,460.5 C698.9,460.1 699.3,459.4 700.0,458.2 C700.6,457.0 701.8,454.9 702.7,453.2 C703.6,451.5 704.5,449.9 705.4,448.2 C706.2,446.5 707.0,444.9 707.8,443.2 C708.6,441.5 709.4,439.9 710.2,438.2 C710.9,436.5 711.6,434.9 712.4,433.2 C713.1,431.5 713.8,429.9 714.5,428.2 C715.1,426.5 715.8,424.9 716.4,423.2 C717.1,421.5 717.7,419.9 718.3,418.2 C718.9,416.5 719.5,414.9 720.1,413.2 C720.7,411.5 721.3,409.9 721.8,408.2 C722.4,406.5 722.9,404.9 723.5,403.2 C724.0,401.5 724.5,399.9 725.1,398.2 C725.6,396.5 726.1,394.9 726.6,393.2 C727.1,391.5 727.6,389.9 728.1,388.2 C728.6,386.5 729.0,384.9 729.5,383.2 C730.0,381.5 730.5,379.9 731.0,378.2 C731.4,376.5 731.9,374.9 732.4,373.2 C732.8,371.5 733.3,369.9 733.8,368.2 C734.2,366.5 734.7,364.9 735.2,363.2 C735.6,361.5 736.1,359.9 736.6,358.2 C737.1,356.5 737.5,354.9 738.0,353.2 C738.5,351.5 739.0,349.9 739.5,348.2 C740.0,346.5 740.4,344.9 740.9,343.2 C741.4,341.5 741.9,339.9 742.4,338.2 C742.9,336.5 743.4,334.9 743.9,333.2 C744.4,331.5 744.9,329.9 745.3,328.2 C745.8,326.5 746.3,324.9 746.8,323.2 C747.3,321.5 747.8,319.9 748.3,318.2 C748.8,316.5 749.2,314.9 749.7,313.2 C750.2,311.5 750.7,309.9 751.1,308.2 C751.6,306.5 752.1,304.9 752.5,303.2 C753.0,301.5 753.5,299.9 753.9,298.2 C754.4,296.5 754.9,294.9 755.3,293.2 C755.8,291.5 756.2,289.9 756.7,288.2 C757.2,286.5 757.6,284.9 758.1,283.2 C758.6,281.5 759.0,279.9 759.5,278.2 C760.0,276.5 760.5,274.9 761.0,273.2 C761.5,271.5 762.0,269.9 762.5,268.2 C763.0,266.5 763.6,264.9 764.1,263.2 C764.6,261.5 765.2,259.9 765.8,258.2 C766.3,256.5 766.9,254.9 767.5,253.2 C768.1,251.5 768.7,249.9 769.4,248.2 C770.0,246.5 770.7,244.9 771.4,243.2 C772.0,241.5 772.7,239.9 773.5,238.2 C774.2,236.5 774.9,234.9 775.7,233.2 C776.5,231.5 777.3,229.9 778.1,228.2 C778.9,226.5 779.8,224.9 780.6,223.2 C781.5,221.5 782.4,219.9 783.4,218.2 C784.3,216.5 785.3,214.9 786.3,213.2 C787.3,211.5 788.4,209.9 789.5,208.2 C790.5,206.5 791.7,204.9 792.8,203.2 C794.0,201.5 795.2,199.9 796.4,198.2 C797.5,196.5 798.8,194.9 799.9,193.2 C801.1,191.5 802.3,189.9 803.4,188.2 C804.6,186.5 805.7,184.9 806.7,183.2 C807.8,181.5 808.9,179.9 809.9,178.2 C810.9,176.5 811.9,174.9 812.8,173.2 C813.8,171.5 814.7,169.9 815.6,168.2 C816.5,166.5 817.3,164.9 818.1,163.2 C818.9,161.5 819.7,159.9 820.5,158.2 C821.2,156.5 821.9,154.9 822.6,153.2 C823.2,151.5 823.8,149.9 824.4,148.2 C825.0,146.5 825.5,144.9 826.0,143.2 C826.5,141.5 827.2,139.0 827.4,138.2" fill="none" stroke="#4c4c4c" stroke-width="1.1" stroke-dasharray="11 3.5 1.2 3.5 1.2 3.5" stroke-dashoffset="14.4" />
<path d="M671.0,455.4 C671.8,455.2 674.3,454.7 676.0,454.4 C677.7,454.1 679.3,453.7 681.0,453.4 C682.7,453.0 684.3,452.7 686.0,452.4 C687.7,452.0 689.3,451.7 691.0,451.3 C692.7,451.0 694.3,450.7 696.0,450.3 C697.7,450.0 699.3,449.6 701.0,449.3 C702.7,449.0 704.3,448.7 706.0,448.3 C707.7,448.0 709.3,447.7 711.0,447.4 C712.7,447.1 714.3,446.7 716.0,446.4 C717.7,446.1 719.3,445.8 721.0,445.4 C722.7,445.1 724.3,444.7 726.0,444.3 C727.7,444.0 729.3,443.6 731.0,443.2 C732.7,442.8 734.3,442.3 736.0,441.9 C737.7,441.4 739.3,440.9 741.0,440.4 C742.7,439.9 744.3,439.3 746.0,438.7 C747.7,438.1 749.3,437.5 751.0,436.8 C752.7,436.1 754.3,435.4 756.0,434.7 C757.7,434.0 759.3,433.3 761.0,432.6 C762.7,431.9 764.3,431.1 766.0,430.4 C767.7,429.7 769.3,429.0 771.0,428.3 C772.7,427.6 774.3,426.9 776.0,426.3 C777.7,425.7 779.3,425.0 781.0,424.5 C782.7,423.9 784.3,423.4 786.0,422.9 C787.7,422.4 789.3,421.9 791.0,421.6 C792.7,421.2 794.3,420.9 796.0,420.6 C797.7,420.4 799.3,420.2 801.0,420.1 C802.7,420.0 804.3,419.9 806.0,420.0 C807.7,420.0 809.3,420.2 811.0,420.4 C812.7,420.7 814.3,421.0 816.0,421.5 C817.7,421.9 819.3,422.5 821.0,423.2 C822.7,423.8 824.3,424.6 826.0,425.5 C827.7,426.3 829.3,427.3 831.0,428.3 C832.7,429.4 834.3,430.5 836.0,431.6 C837.7,432.8 839.3,434.0 841.0,435.2 C842.7,436.5 844.3,437.8 846.0,439.0 C847.7,440.3 849.3,441.6 851.0,442.9 C852.7,444.2 854.3,445.6 856.0,446.8 C857.7,448.1 859.3,449.4 861.0,450.6 C862.7,451.8 864.3,453.0 866.0,454.2 C867.7,455.3 869.3,456.4 871.0,457.5 C872.7,458.5 874.5,459.6 876.0,460.4 C877.5,461.2 879.2,462.1 879.8,462.4" fill="none" stroke="#4c4c4c" stroke-width="1.1" stroke-dasharray="11 3.5 1.2 3.5 1.2 3.5" stroke-dashoffset="14.4" />
<line x1="186" y1="530.1" x2="423.2" y2="530.1" stroke="#222" stroke-width="1.5" />
<line x1="186" y1="568.9" x2="423.2" y2="568.9" stroke="#222" stroke-width="1.6" />
<text x="195.7" y="546.2" font-family='"Liberation Serif", serif' font-size="16.3" fill="#111" textLength="74" lengthAdjust="spacingAndGlyphs">Plasma hcy</text>
<text x="195.7" y="564.2" font-family='"Liberation Serif", serif' font-size="16.3" fill="#111" textLength="59.8" lengthAdjust="spacingAndGlyphs">(µmol/L)</text>
<text x="292" y="546.2" font-family='"Liberation Serif", serif' font-size="16.3" fill="#111" textLength="86.6" lengthAdjust="spacingAndGlyphs">RR (95% CI)</text>
<text x="273.5" y="584.8" font-family='"Liberation Serif", serif' font-size="16.3" fill="#111" text-anchor="end">6.0</text>
<text x="292" y="584.8" font-family='"Liberation Serif", serif' font-size="16.3" fill="#111" font-style="italic" textLength="64.2" lengthAdjust="spacingAndGlyphs">Reference</text>
<text x="273.5" y="603.6" font-family='"Liberation Serif", serif' font-size="16.3" fill="#111" text-anchor="end">8.0</text>
<text x="292" y="603.6" font-family='"Liberation Serif", serif' font-size="16.3" fill="#111" textLength="108.7" lengthAdjust="spacingAndGlyphs">1.05 (0.88, 1.26)</text>
<text x="273.5" y="622.5" font-family='"Liberation Serif", serif' font-size="16.3" fill="#111" text-anchor="end">10.0</text>
<text x="292" y="622.5" font-family='"Liberation Serif", serif' font-size="16.3" fill="#111" textLength="108.7" lengthAdjust="spacingAndGlyphs">1.11 (0.77, 1.60)</text>
<text x="273.5" y="641.4" font-family='"Liberation Serif", serif' font-size="16.3" fill="#111" text-anchor="end">12.0</text>
<text x="292" y="641.4" font-family='"Liberation Serif", serif' font-size="16.3" fill="#111" textLength="108.7" lengthAdjust="spacingAndGlyphs">1.17 (0.67, 2.02)</text>
<line x1="719" y1="530.1" x2="956.2" y2="530.1" stroke="#222" stroke-width="1.5" />
<line x1="719" y1="568.9" x2="956.2" y2="568.9" stroke="#222" stroke-width="1.6" />
<text x="728.7" y="546.2" font-family='"Liberation Serif", serif' font-size="16.3" fill="#111" textLength="74" lengthAdjust="spacingAndGlyphs">Plasma hcy</text>
<text x="728.7" y="564.2" font-family='"Liberation Serif", serif' font-size="16.3" fill="#111" textLength="59.8" lengthAdjust="spacingAndGlyphs">(µmol/L)</text>
<text x="825" y="546.2" font-family='"Liberation Serif", serif' font-size="16.3" fill="#111" textLength="86.6" lengthAdjust="spacingAndGlyphs">RR (95% CI)</text>
<text x="806.5" y="584.8" font-family='"Liberation Serif", serif' font-size="16.3" fill="#111" text-anchor="end">6.0</text>
<text x="825" y="584.8" font-family='"Liberation Serif", serif' font-size="16.3" fill="#111" font-style="italic" textLength="64.2" lengthAdjust="spacingAndGlyphs">Reference</text>
<text x="806.5" y="603.6" font-family='"Liberation Serif", serif' font-size="16.3" fill="#111" text-anchor="end">8.0</text>
<text x="825" y="603.6" font-family='"Liberation Serif", serif' font-size="16.3" fill="#111" textLength="108.7" lengthAdjust="spacingAndGlyphs">1.43 (1.08, 1.89)</text>
<text x="806.5" y="622.5" font-family='"Liberation Serif", serif' font-size="16.3" fill="#111" text-anchor="end">10.0</text>
<text x="825" y="622.5" font-family='"Liberation Serif", serif' font-size="16.3" fill="#111" textLength="108.7" lengthAdjust="spacingAndGlyphs">1.92 (1.19, 3.12)</text>
<text x="806.5" y="641.4" font-family='"Liberation Serif", serif' font-size="16.3" fill="#111" text-anchor="end">12.0</text>
<text x="825" y="641.4" font-family='"Liberation Serif", serif' font-size="16.3" fill="#111" textLength="108.7" lengthAdjust="spacingAndGlyphs">2.37 (1.33, 4.24)</text>
<text x="53.7" y="668.8" font-family='"Liberation Sans", sans-serif' font-size="20" fill="#242424" textLength="380.74" lengthAdjust="spacingAndGlyphs">Anovulation models weighted for missing anovulation (n</text>
<line x1="440" y1="662.4" x2="453.3" y2="662.4" stroke="#8c8c8c" stroke-width="1.3" />
<line x1="440" y1="666.0" x2="453.3" y2="666.0" stroke="#8c8c8c" stroke-width="1.3" />
<text x="458.1" y="668.8" font-family='"Liberation Sans", sans-serif' font-size="20" fill="#242424" textLength="270.28" lengthAdjust="spacingAndGlyphs">403; 9.4% cycles) and homocysteine (n</text>
<line x1="733.2" y1="662.4" x2="746.4" y2="662.4" stroke="#8c8c8c" stroke-width="1.3" />
<line x1="733.2" y1="666.0" x2="746.4" y2="666.0" stroke="#8c8c8c" stroke-width="1.3" />
<text x="751.4" y="668.8" font-family='"Liberation Sans", sans-serif' font-size="20" fill="#242424" textLength="347.71" lengthAdjust="spacingAndGlyphs">22; 1.8% women); pregnancy models weighted for</text>
<text x="53.7" y="691.8" font-family='"Liberation Sans", sans-serif' font-size="20" fill="#242424" textLength="219.77" lengthAdjust="spacingAndGlyphs">withdrawal before pregnancy (n</text>
<line x1="277.8" y1="685.4" x2="291.4" y2="685.4" stroke="#8c8c8c" stroke-width="1.3" />
<line x1="277.8" y1="689.0" x2="291.4" y2="689.0" stroke="#8c8c8c" stroke-width="1.3" />
<text x="296.8" y="691.8" font-family='"Liberation Sans", sans-serif' font-size="20" fill="#242424" textLength="630.21" lengthAdjust="spacingAndGlyphs">128; 10.4%) and missing homocysteine, pregnancy loss models weighted for withdrawal (n</text>
<line x1="931.8" y1="685.4" x2="945.1" y2="685.4" stroke="#8c8c8c" stroke-width="1.3" />
<line x1="931.8" y1="689.0" x2="945.1" y2="689.0" stroke="#8c8c8c" stroke-width="1.3" />
<text x="951.4" y="691.8" font-family='"Liberation Sans", sans-serif' font-size="20" fill="#242424" textLength="148.65" lengthAdjust="spacingAndGlyphs">140; 11.4% women),</text>
<text x="52.8" y="714.5" font-family='"Liberation Sans", sans-serif' font-size="20" fill="#242424" textLength="117.84" lengthAdjust="spacingAndGlyphs">nonpregnancy (n</text>
<line x1="176" y1="708.1" x2="189.1" y2="708.1" stroke="#8c8c8c" stroke-width="1.3" />
<line x1="176" y1="711.7" x2="189.1" y2="711.7" stroke="#8c8c8c" stroke-width="1.3" />
<text x="195.6" y="714.5" font-family='"Liberation Sans", sans-serif' font-size="20" fill="#242424" textLength="904.21" lengthAdjust="spacingAndGlyphs">431, 35.1% women), and missing homocysteine. Unadjusted relative risks defined relative to median values for homocysteine (6.0</text>
<text x="54.6" y="737.4" font-family='"Liberation Sans", sans-serif' font-size="20" fill="#242424" textLength="55.05" lengthAdjust="spacingAndGlyphs"><tspan font-style="italic">µ</tspan>mol/L)</text>
<text x="111.3" y="728.4" font-family='"Liberation Sans", sans-serif' font-size="12" fill="#4a8fb8" textLength="29.76" lengthAdjust="spacingAndGlyphs">12,13</text>
<text x="147.4" y="737.4" font-family='"Liberation Sans", sans-serif' font-size="20" fill="#242424" textLength="274.63" lengthAdjust="spacingAndGlyphs">among U.S. reproductive-aged women.</text>
<text x="53.7" y="760.7" font-family='"Liberation Sans", sans-serif' font-size="14.2" fill="#242424" textLength="330.31" lengthAdjust="spacingAndGlyphs"><tspan font-style="italic">BMI,</tspan> body mass index; <tspan font-style="italic">CI,</tspan> confidence interval; <tspan font-style="italic">RR,</tspan> relative risk.</text>
<text x="53.7" y="783.7" font-family='"Liberation Serif", serif' font-size="13.8" fill="#1a1a1a" font-style="italic" textLength="835.03" lengthAdjust="spacingAndGlyphs">DeVilbiss et al. Preconception folate status and reproductive outcomes among a prospective cohort of folate-replete women. Am J Obstet Gynecol 2019.</text>
<line x1="54" y1="804" x2="1099.5" y2="804" stroke="#0c0c0c" stroke-width="2" />
</svg>
</body>
</html>
